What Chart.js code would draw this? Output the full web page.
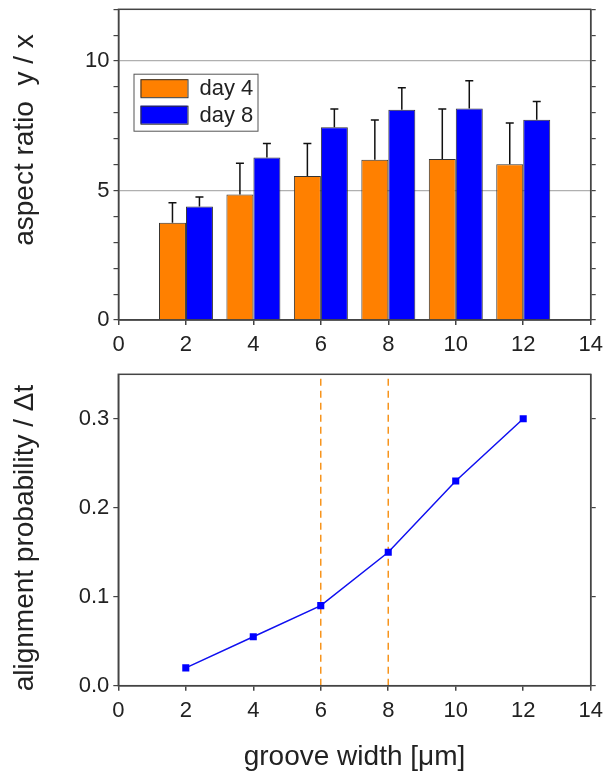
<!DOCTYPE html>
<html>
<head>
<meta charset="utf-8">
<script src="https://cdn.jsdelivr.net/npm/chart.js@4.4.1/dist/chart.umd.min.js"></script>
<style>
  html, body { margin: 0; padding: 0; background: #fff; }
  #wrap { position: relative; width: 604px; height: 771px; }
  #topBox { position: absolute; left: 0; top: 0; width: 604px; height: 360px; }
  #botBox { position: absolute; left: 0; top: 360px; width: 604px; height: 411px; }
</style>
</head>
<body>
<div id="wrap">
  <div id="topBox"><canvas id="topChart"></canvas></div>
  <div id="botBox"><canvas id="botChart"></canvas></div>
</div>
<script>
// Data
const grooveWidths = [2, 4, 6, 8, 10, 12];
const day4 = [3.76, 4.85, 5.56, 6.19, 6.22, 6.02];
const day4Err = [0.77, 1.20, 1.26, 1.53, 1.93, 1.59];
const day8 = [4.38, 6.28, 7.44, 8.12, 8.17, 7.73];
const day8Err = [0.37, 0.54, 0.71, 0.85, 1.07, 0.71];
const alignProb = [0.02, 0.055, 0.09, 0.15, 0.23, 0.30];
const dashedAt = [6, 8];
const aspectLabels = [0, 5, 10];
const alignTicks = [0, 0.1, 0.2, 0.3];

const FONT = '"Liberation Sans", Arial, Helvetica, sans-serif';
const AXIS = '#444';
Chart.defaults.font.family = FONT;
Chart.defaults.color = '#222';
Chart.defaults.animation = false;

// box around the plot area
const frame = {
  id: 'frame',
  afterDraw(chart) {
    const a = chart.chartArea, ctx = chart.ctx;
    ctx.save();
    ctx.strokeStyle = AXIS;
    ctx.lineWidth = 1.5;
    ctx.strokeRect(a.left, a.top, a.right - a.left, a.bottom - a.top);
    ctx.restore();
  }
};

// upper error bars only
const errorBars = {
  id: 'errorBars',
  afterDatasetsDraw(chart) {
    const ctx = chart.ctx, ys = chart.scales.y;
    chart.data.datasets.forEach((ds, di) => {
      if (!ds.errors) return;
      chart.getDatasetMeta(di).data.forEach((bar, i) => {
        const top = ys.getPixelForValue(ds.data[i].y + ds.errors[i]);
        ctx.save();
        ctx.strokeStyle = '#111';
        ctx.lineWidth = 1.5;
        ctx.beginPath();
        ctx.moveTo(bar.x, bar.y);
        ctx.lineTo(bar.x, top);
        ctx.moveTo(bar.x - 4, top);
        ctx.lineTo(bar.x + 4, top);
        ctx.stroke();
        ctx.restore();
      });
    });
  }
};

// rotated y title, placed freely
const yTitle = {
  id: 'yTitle',
  afterDraw(chart, args, opts) {
    const ctx = chart.ctx;
    ctx.save();
    ctx.translate(opts.x, opts.y);
    ctx.rotate(-Math.PI / 2);
    ctx.font = opts.size + 'px ' + FONT;
    ctx.fillStyle = '#222';
    ctx.textAlign = 'center';
    ctx.textBaseline = 'middle';
    ctx.fillText(opts.text, 0, 0);
    ctx.restore();
  }
};

// boxed legend inside the plot
const boxLegend = {
  id: 'boxLegend',
  afterDraw(chart, args, opts) {
    const a = chart.chartArea, ctx = chart.ctx;
    const x0 = a.left + opts.dx, y0 = a.top + opts.dy;
    ctx.save();
    ctx.fillStyle = '#fff';
    ctx.fillRect(x0, y0, 124, 57);
    ctx.strokeStyle = '#555';
    ctx.lineWidth = 1;
    ctx.strokeRect(x0 + 0.5, y0 + 0.5, 124, 57);
    chart.data.datasets.forEach((ds, i) => {
      const sy = y0 + 5.5 + i * 26.5;
      ctx.fillStyle = ds.backgroundColor;
      ctx.fillRect(x0 + 7, sy, 47, 18);
      ctx.strokeStyle = '#333';
      ctx.strokeRect(x0 + 7.5, sy + 0.5, 47, 18);
      ctx.fillStyle = '#222';
      ctx.font = '22px ' + FONT;
      ctx.textBaseline = 'middle';
      ctx.fillText(ds.label, x0 + 66, sy + 10);
    });
    ctx.restore();
  }
};

const tickFont = { size: 22 };
// fixed axis sizes so the plot box sits where the original does
const fixV = w => s => { s.width = w; s.paddingTop = 0; s.paddingBottom = 0; };
const fixH = h => s => { s.height = h; s.paddingLeft = 0; s.paddingRight = 0; };

new Chart(document.getElementById('topChart'), {
  type: 'bar',
  data: {
    datasets: [{
      label: 'day 4',
      data: grooveWidths.map((x, i) => ({ x, y: day4[i] })),
      errors: day4Err,
      backgroundColor: '#FF8000',
      borderColor: '#333',
      borderWidth: 1,
      categoryPercentage: 0.8,
      barPercentage: 1.0
    }, {
      label: 'day 8',
      data: grooveWidths.map((x, i) => ({ x, y: day8[i] })),
      errors: day8Err,
      backgroundColor: '#0000FF',
      borderColor: '#333',
      borderWidth: 1,
      categoryPercentage: 0.8,
      barPercentage: 1.0
    }]
  },
  options: {
    responsive: true,
    maintainAspectRatio: false,
    layout: { padding: { top: 9.3, right: 0, left: 0, bottom: 0 } },
    plugins: {
      legend: { display: false },
      tooltip: { enabled: false },
      yTitle: { text: 'aspect ratio  y / x', x: 25, y: 140, size: 28 },
      boxLegend: { dx: 15, dy: 64.4 }
    },
    scales: {
      x: {
        type: 'linear', min: 0, max: 14, offset: false,
        ticks: { stepSize: 2, font: tickFont, padding: 7, color: '#222', autoSkip: false, maxRotation: 0 },
        grid: { offset: false, drawOnChartArea: false, tickLength: 5, color: AXIS, tickColor: AXIS, lineWidth: 1.5 },
        border: { color: AXIS, width: 1.5 },
        afterFit: fixH(40)
      },
      y: {
        min: 0, max: 12,
        ticks: { stepSize: 1, font: tickFont, padding: 4, color: '#222', autoSkip: false,
          callback: v => aspectLabels.includes(v) ? String(v) : '' },
        grid: {
          color: c => (c.tick && (c.tick.value === 5 || c.tick.value === 10)) ? '#b0b0b0' : 'rgba(0,0,0,0)',
          tickColor: AXIS, tickLength: 5, lineWidth: 1.2
        },
        border: { color: AXIS, width: 1.5 },
        afterFit: fixV(118.5)
      },
      y2: {
        position: 'right', min: 0, max: 12,
        ticks: { stepSize: 1, display: false, autoSkip: false },
        grid: { drawOnChartArea: false, tickLength: 5, color: AXIS, tickColor: AXIS, lineWidth: 1.2 },
        border: { color: AXIS, width: 1.5 },
        afterFit: fixV(13.3)
      }
    }
  },
  plugins: [errorBars, frame, yTitle, boxLegend]
});

const yMaxBot = 0.35;

new Chart(document.getElementById('botChart'), {
  type: 'line',
  data: {
    datasets: [{
      label: 'alignment',
      data: grooveWidths.map((x, i) => ({ x, y: alignProb[i] })),
      borderColor: '#1010F0',
      backgroundColor: '#0000FF',
      borderWidth: 1.5,
      pointStyle: 'rect',
      pointRadius: 5,
      pointBorderWidth: 0
    }].concat(dashedAt.map(v => ({
      label: 'mark ' + v,
      data: [{ x: v, y: 0 }, { x: v, y: yMaxBot }],
      borderColor: '#F7941D',
      borderWidth: 1.5,
      borderDash: [7, 5],
      pointRadius: 0
    })))
  },
  options: {
    responsive: true,
    maintainAspectRatio: false,
    layout: { padding: { top: 14.3, right: 0, left: 0, bottom: 0 } },
    plugins: {
      legend: { display: false },
      tooltip: { enabled: false },
      yTitle: { text: 'alignment probability / \u0394t', x: 25, y: 178, size: 28 }
    },
    scales: {
      x: {
        type: 'linear', min: 0, max: 14,
        ticks: { stepSize: 2, font: tickFont, padding: 7, color: '#222', autoSkip: false, maxRotation: 0 },
        grid: { drawOnChartArea: false, tickLength: 5, color: AXIS, tickColor: AXIS, lineWidth: 1.5 },
        border: { color: AXIS, width: 1.5 },
        title: { display: true, text: 'groove width [\u03bcm]', font: { size: 28 }, color: '#222', padding: { top: 0, bottom: -3 } },
        afterFit: fixH(85.3)
      },
      y: {
        min: 0, max: yMaxBot,
        afterBuildTicks: s => { s.ticks = alignTicks.map(v => ({ value: v })); },
        ticks: { font: tickFont, padding: 4, color: '#222', autoSkip: false, callback: v => v.toFixed(1) },
        grid: { drawOnChartArea: false, tickLength: 5, color: AXIS, tickColor: AXIS, lineWidth: 1.2 },
        border: { color: AXIS, width: 1.5 },
        afterFit: fixV(118.3)
      },
      y2: {
        position: 'right', min: 0, max: yMaxBot,
        afterBuildTicks: s => { s.ticks = alignTicks.map(v => ({ value: v })); },
        ticks: { display: false },
        grid: { drawOnChartArea: false, tickLength: 5, color: AXIS, tickColor: AXIS, lineWidth: 1.2 },
        border: { color: AXIS, width: 1.5 },
        afterFit: fixV(13.3)
      }
    }
  },
  plugins: [frame, yTitle]
});
</script>
</body>
</html>
